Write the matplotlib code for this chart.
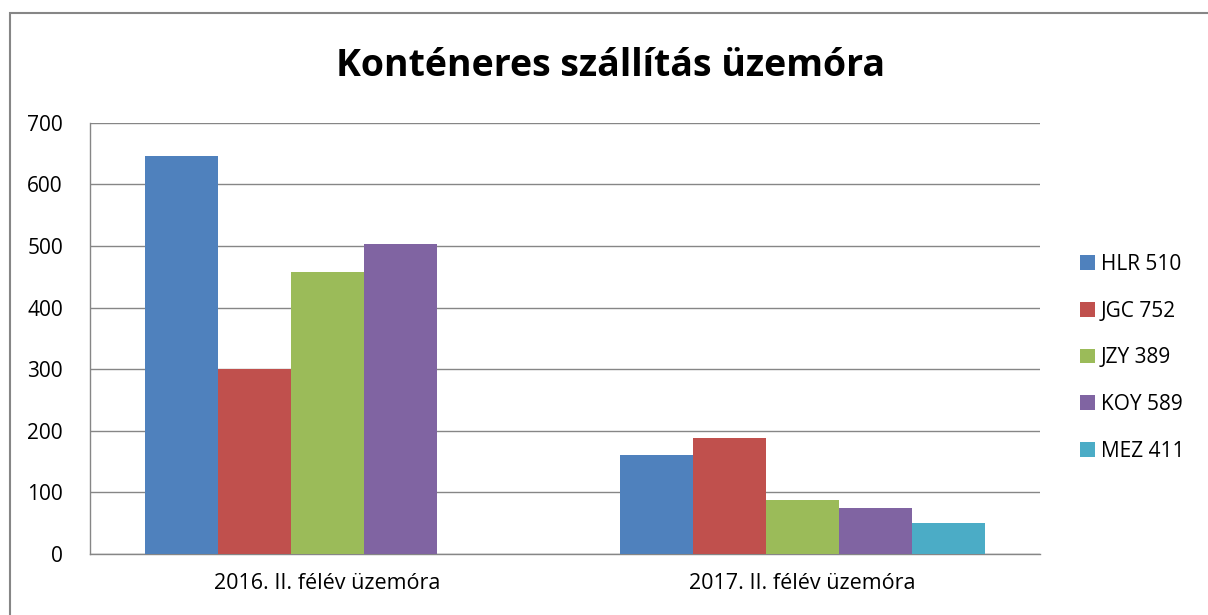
import matplotlib
matplotlib.use("Agg")
import matplotlib.pyplot as plt
from matplotlib.patches import Rectangle, Patch
import numpy as np

categories = ["2016. II. félév üzemóra", "2017. II. félév üzemóra"]
series_names = ["HLR 510", "JGC 752", "JZY 389", "KOY 589", "MEZ 411"]
hlr = [646, 160]
jgc = [300, 188]
jzy = [458, 88]
koy = [504, 74]
mez = [0, 50]
series_values = [hlr, jgc, jzy, koy, mez]
colors = ["#4F81BD", "#C0504D", "#9BBB59", "#8064A2", "#4BACC6"]
yticks = [0, 100, 200, 300, 400, 500, 600, 700]

plt.rcParams['font.family'] = ['Open Sans', 'DejaVu Sans']

W, H = 1208, 615
fig = plt.figure(figsize=(W / 100, H / 100), dpi=100)
fig.patch.set_facecolor("white")

# outer chart border (cropped on right and bottom)
fig.add_artist(Rectangle((10 / W, -0.1), 1.2, 1 - 13 / H + 0.1, transform=fig.transFigure,
                         fill=False, edgecolor="#868686", linewidth=1.5))

ax = fig.add_axes([90 / W, 1 - 554 / H, (1040 - 90) / W, (554 - 122.8) / H])
x = np.arange(len(categories))
w = 0.1537
for i, (name, vals, c) in enumerate(zip(series_names, series_values, colors)):
    vals_plot = [v if v > 0 else np.nan for v in vals]
    ax.bar(x + (i - 2) * w, vals_plot, width=w, color=c, label=name, zorder=3)

ax.set_xlim(-0.5, 1.5)
ax.set_ylim(0, 700)
ax.set_yticks(yticks)
ax.set_xticks(x)
ax.set_xticklabels(categories, fontsize=15.5)
ax.tick_params(axis='both', length=0, labelsize=15, colors="#000000")
ax.tick_params(axis='y', pad=19.5)
ax.tick_params(axis='x', pad=14, labelsize=15.5)
ax.grid(axis='y', color="#868686", linewidth=1, zorder=0)
for s in ["top", "right"]:
    ax.spines[s].set_visible(False)
for s in ["left", "bottom"]:
    ax.spines[s].set_color("#868686")
    ax.spines[s].set_linewidth(1)

fig.text(611 / W, 1 - 66 / H, "Konténeres szállítás üzemóra", ha="center", va="center",
         fontsize=27, fontweight="bold")

handles = [Patch(facecolor=c, edgecolor="none") for c in colors]
fig.legend(handles, series_names, loc="upper left", bbox_to_anchor=(1080 / W, 1 - 254 / H),
           frameon=False, fontsize=15, handlelength=0.7, handleheight=0.7,
           handletextpad=0.3, labelspacing=1.23, borderaxespad=0, borderpad=0)

fig.savefig("out.png", dpi=100)
